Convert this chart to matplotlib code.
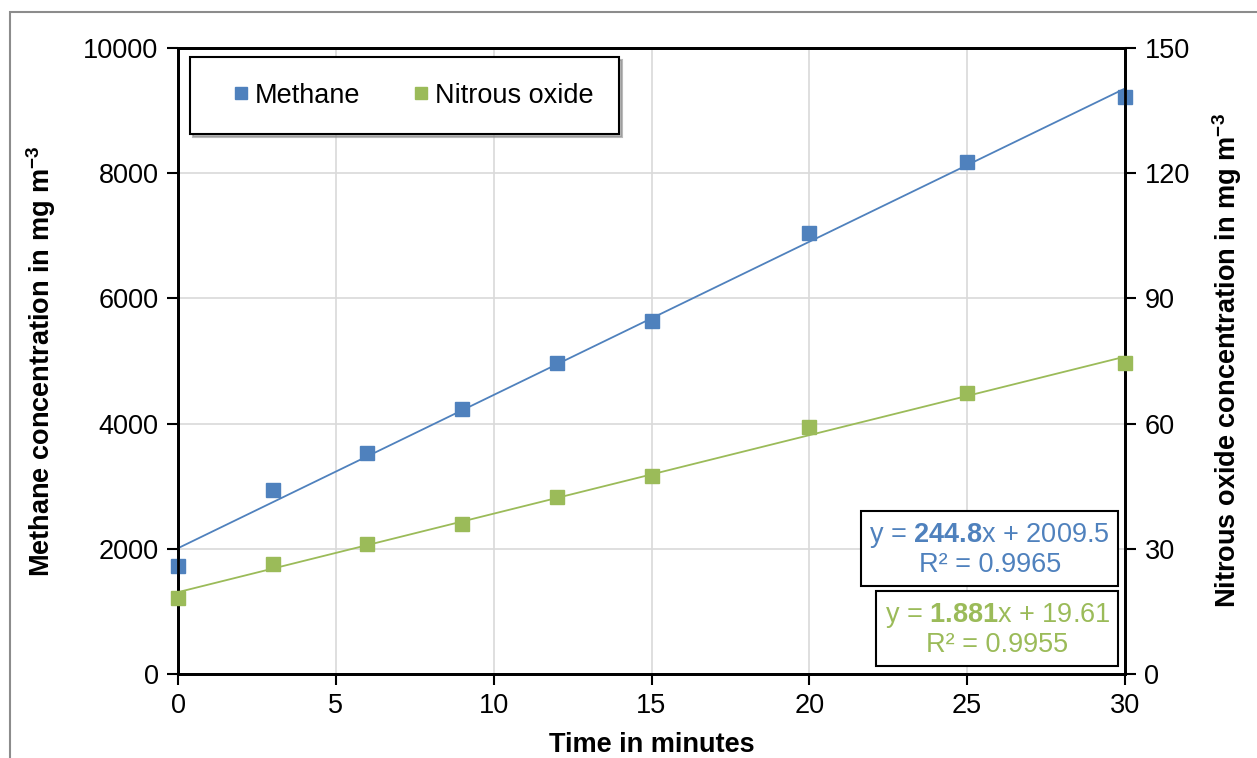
import matplotlib
matplotlib.use("Agg")
import matplotlib.pyplot as plt
from matplotlib.patches import Rectangle
import numpy as np

plt.rcParams["font.family"] = ["Liberation Sans", "DejaVu Sans"]
plt.rcParams["mathtext.fontset"] = "custom"
plt.rcParams["mathtext.rm"] = "Liberation Sans"
plt.rcParams["mathtext.bf"] = "Liberation Sans:bold"
plt.rcParams["mathtext.default"] = "regular"

# data
time_min = [0, 3, 6, 9, 12, 15, 20, 25, 30]
methane = [1725, 2940, 3530, 4233, 4968, 5639, 7045, 8179, 9217]
nitrous = [18.2, 26.4, 31.2, 35.9, 42.4, 47.4, 59.2, 67.3, 74.5]

# linear trendlines as printed on the chart
ch4_slope, ch4_icpt, ch4_r2 = 244.8, 2009.5, 0.9965
n2o_slope, n2o_icpt, n2o_r2 = 1.881, 19.61, 0.9955

c_ch4 = "#4f81bd"
c_n2o = "#9bbb59"
fs = 19.5

fig = plt.figure(figsize=[12.57, 7.58], dpi=100)
W, H = 1257, 758
ax = fig.add_axes([178 / W, 1 - 674 / H, (1125 - 178) / W, (674 - 48) / H])
ax2 = ax.twinx()

# outer chart border
fig.patches.append(
    Rectangle((10 / W, -0.05), 1.1, 1 - 12 / H + 0.05, transform=fig.transFigure,
              fill=False, edgecolor="#8c8c8c", linewidth=1.5)
)

xs = np.array([0, 30])
ax.plot(xs, ch4_slope * xs + ch4_icpt, color=c_ch4, linewidth=1.3, zorder=3)
ax.plot(time_min, methane, "s", color=c_ch4, markersize=9.5, zorder=4,
        label="Methane", clip_on=False)
ax2.plot(xs, n2o_slope * xs + n2o_icpt, color=c_n2o, linewidth=1.3, zorder=3)
ax2.plot(time_min, nitrous, "s", color=c_n2o, markersize=9.5, zorder=4,
         label="Nitrous oxide", clip_on=False)

ax.set_xlim(0, 30)
ax.set_ylim(0, 10000)
ax2.set_ylim(0, 150)
ax.set_xticks(range(0, 31, 5))
ax.set_yticks(range(0, 10001, 2000))
ax2.set_yticks(range(0, 151, 30))
ax.grid(True, color="#d9d9d9", linewidth=1.2)
ax.set_axisbelow(True)

for a in (ax, ax2):
    a.tick_params(direction="out", length=8, width=1.5, labelsize=fs, pad=6)
    for s in a.spines.values():
        s.set_linewidth(2)
        s.set_color("black")

ax.set_xlabel("Time in minutes", fontsize=fs, fontweight="bold")
ax.set_ylabel(r"Methane concentration in mg m$^{\mathbf{-3}}$", fontsize=fs,
              fontweight="bold")
ax2.set_ylabel(r"Nitrous oxide concentration in mg m$^{\mathbf{-3}}$",
               fontsize=fs, fontweight="bold")
ax.xaxis.set_label_coords(0.5, -0.093)
ax.yaxis.set_label_coords(-0.127, 0.5)
ax2.yaxis.set_label_coords(1.090, 0.5)

# legend
h1, l1 = ax.get_legend_handles_labels()
h2, l2 = ax2.get_legend_handles_labels()
leg = ax2.legend(
    h1 + h2, l1 + l2, ncol=2, loc="upper left",
    bbox_to_anchor=(190 / W, 1 - 57 / H), bbox_transform=fig.transFigure,
    fontsize=fs, frameon=True, fancybox=False, borderpad=0.95,
    handlelength=1.9, handletextpad=-0.45, columnspacing=1.3, markerscale=0.9,
    borderaxespad=0, shadow={"color": "0.55", "alpha": 0.6},
)
leg.get_frame().set_edgecolor("black")
leg.get_frame().set_linewidth(1.5)

# trendline equation boxes
box = dict(boxstyle="square,pad=0.3", facecolor="white", edgecolor="black",
           linewidth=1.5)
fig.text(1110 / W, 1 - 549.5 / H,
         "y = $\\mathbf{%.1f}$x + %.1f\nR² = %.4f" % (ch4_slope, ch4_icpt, ch4_r2),
         color=c_ch4, fontsize=fs, ha="right", va="center",
         multialignment="center", bbox=box, linespacing=1.1)
fig.text(1110 / W, 1 - 629.5 / H,
         "y = $\\mathbf{%.3f}$x + %.2f\nR² = %.4f" % (n2o_slope, n2o_icpt, n2o_r2),
         color=c_n2o, fontsize=fs, ha="right", va="center",
         multialignment="center", bbox=box, linespacing=1.1)

fig.savefig("out.png", dpi=100)
